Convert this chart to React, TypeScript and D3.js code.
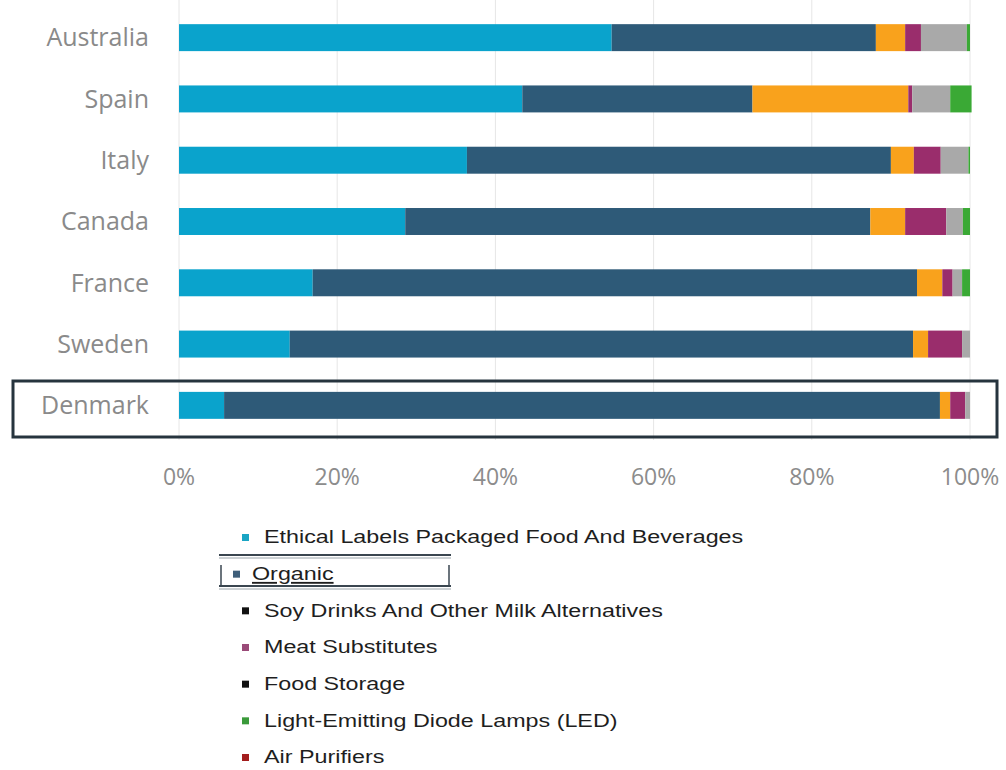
import React from "react";
import * as d3 from "d3";

const countries = ["Australia", "Spain", "Italy", "Canada", "France", "Sweden", "Denmark"];
const ethical = [54.7, 43.4, 36.4, 28.6, 16.9, 14.0, 5.7];
const organic = [33.4, 29.1, 53.6, 58.8, 76.4, 78.8, 90.5];
const soy = [3.7, 19.7, 2.9, 4.4, 3.2, 1.9, 1.3];
const meat = [2.0, 0.5, 3.4, 5.2, 1.3, 4.3, 1.9];
const storage = [5.8, 4.8, 3.5, 2.1, 1.2, 1.0, 0.6];
const led = [0.4, 2.7, 0.2, 0.9, 1.0, 0.0, 0.0];
const seriesKeys = ["ethical", "organic", "soy", "meat", "storage", "led"];
const seriesColors = ["#0aa3cc", "#2e5a78", "#f9a21c", "#9a2d6c", "#a9a9a9", "#3aa935"];
const ticks = [0, 20, 40, 60, 80, 100];
const legendLabels = [
  "Ethical Labels Packaged Food And Beverages",
  "Organic",
  "Soy Drinks And Other Milk Alternatives",
  "Meat Substitutes",
  "Food Storage",
  "Light-Emitting Diode Lamps (LED)",
  "Air Purifiers",
];
const legendColors = ["#1aa5c4", "#3f5f7a", "#111111", "#9a4a78", "#111111", "#3a9a3a", "#a31d1d"];

export default function App() {
  const W = 1006, H = 770;
  const rows = countries.map((c, i) => ({
    country: c,
    ethical: ethical[i], organic: organic[i], soy: soy[i],
    meat: meat[i], storage: storage[i], led: led[i],
  }));
  const stack = d3.stack<any>().keys(seriesKeys);
  const stacked = stack(rows);
  const x = d3.scaleLinear().domain([0, 100]).range([179, 970]);
  const y = d3.scaleBand().domain(countries).range([7, 436]).paddingInner(0.56).paddingOuter(0.28);
  const legendY = d3.scalePoint().domain(legendLabels).range([537, 757]);

  return (
    <svg width={W} height={H} style={{ position: "absolute", left: 0, top: 0, background: "#fff" }}>
      {ticks.map((t) => (
        <line key={t} x1={x(t)} x2={x(t)} y1={0} y2={440} stroke="#e6e6e6" strokeWidth={1} />
      ))}
      {stacked.map((s, si) => (
        <g key={s.key} fill={seriesColors[si]}>
          {s.map((d, i) => (
            <rect key={i} x={x(d[0])} y={y(countries[i])} width={Math.max(0, x(d[1]) - x(d[0]))} height={y.bandwidth()} />
          ))}
        </g>
      ))}
      {countries.map((c) => (
        <text key={c} x={149} y={(y(c) as number) + y.bandwidth() / 2} dy="0.35em" textAnchor="end"
          fontFamily="'Open Sans', sans-serif" fontSize={25} fill="#8a8a8a">{c}</text>
      ))}
      {ticks.map((t) => (
        <text key={t} x={x(t)} y={477} dy="0.35em" textAnchor="middle"
          fontFamily="'Open Sans', sans-serif" fontSize={23} fill="#8c8c8c">{t}%</text>
      ))}
      <rect x={13} y={381} width={984} height={56} fill="none" stroke="#26343e" strokeWidth={3} />
      {legendLabels.map((l, i) => {
        const cy = legendY(l) as number;
        const isOrg = i === 1;
        const mx = isOrg ? 236 : 245;
        const tx = isOrg ? 252 : 264;
        return (
          <g key={l}>
            <rect x={mx - 3} y={cy - 3} width={7} height={7} fill={legendColors[i]} />
            <text transform={`translate(${tx},${cy}) scale(1.26,1)`} dy="0.35em"
              fontFamily="'Liberation Sans', Arial, sans-serif" fontSize={18.5} fill="#1e1e1e"
              textDecoration={isOrg ? "underline" : undefined}>{l}</text>
          </g>
        );
      })}
      <g stroke="#3a4650" fill="none">
        <line x1={219} x2={451} y1={555} y2={555} strokeWidth={2} />
        <line x1={219} x2={451} y1={558} y2={558} strokeWidth={1} stroke="#9aa4aa" />
        <line x1={219} x2={451} y1={586} y2={586} strokeWidth={2} />
        <line x1={219} x2={451} y1={589} y2={589} strokeWidth={1} stroke="#9aa4aa" />
        <line x1={221} x2={221} y1={565} y2={587} strokeWidth={1.5} />
        <line x1={449} x2={449} y1={565} y2={587} strokeWidth={1.5} />
      </g>
    </svg>
  );
}
